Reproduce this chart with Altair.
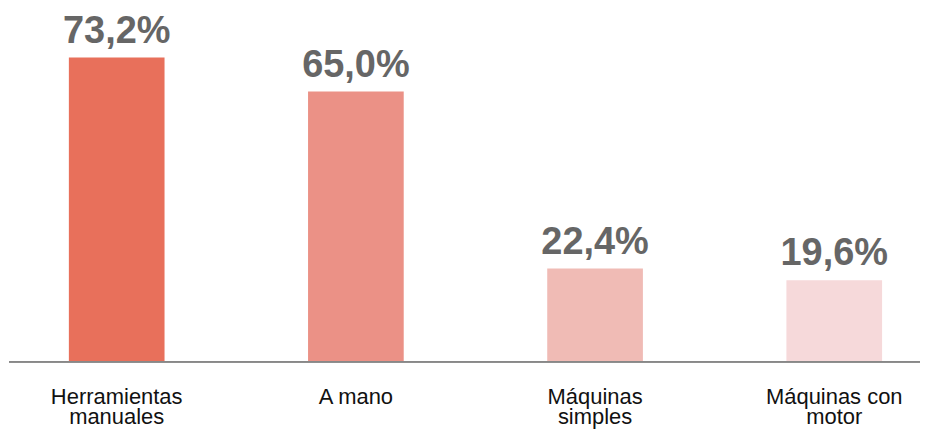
import altair as alt
import pandas as pd

categories = ["Herramientas manuales", "A mano", "Máquinas simples", "Máquinas con motor"]
label_lines = [["Herramientas", "manuales"], ["A mano"], ["Máquinas", "simples"], ["Máquinas con", "motor"]]
values = [73.2, 65.0, 22.4, 19.6]
colors = ["#E8705B", "#EB9186", "#F0BBB5", "#F6D9DA"]

df = pd.DataFrame({
    "cat": categories,
    "v": values,
    "name": ["|".join(l) for l in label_lines],
    "zero": [0.0] * len(categories),
})

xscale = alt.Scale(paddingInner=0.6, paddingOuter=0, range=[60, 875], round=False)
x = alt.X("cat:N", sort=categories, title=None, scale=xscale, axis=None)
yscale = alt.Scale(domain=[-14.64, 85], nice=False, zero=False)
y = alt.Y("v:Q", scale=yscale, axis=None)

base = alt.Chart(df)
bars = base.mark_bar().encode(
    x=x,
    y=y,
    y2=alt.Y2("zero:Q"),
    color=alt.Color("cat:N", sort=categories,
                    scale=alt.Scale(domain=categories, range=colors), legend=None),
)
text = base.transform_calculate(
    lbl="replace(format(datum.v, '.1f'), '.', ',') + '%'"
).mark_text(
    font="Liberation Sans", fontWeight="bold", fontSize=38, color="#666666",
    baseline="alphabetic", dy=-15,
).encode(x=alt.X("cat:N", sort=categories), y=alt.Y("v:Q"), text="lbl:N")

baseline_rule = base.mark_rule(color="#888888", strokeWidth=1.5).encode(
    y=alt.Y("zero:Q")
)

cat_labels = base.mark_text(
    font="Liberation Sans", fontSize=22, color="#111111",
    baseline="top", lineBreak="|", lineHeight=20, dy=25,
).encode(x=alt.X("cat:N", sort=categories), y=alt.Y("zero:Q"), text="name:N")

chart = (bars + baseline_rule + text + cat_labels).properties(
    width=913, height=415, padding=0
).configure_view(stroke="transparent")
chart.save("out.html", embed_options={"renderer": "svg", "actions": False})
